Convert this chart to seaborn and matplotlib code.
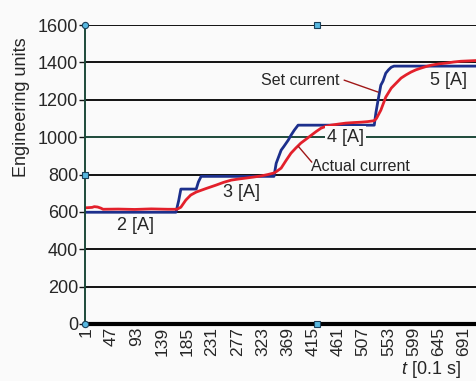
import numpy as np
import pandas as pd
import matplotlib
matplotlib.use("Agg")
import matplotlib.pyplot as plt
import seaborn as sns

# Sample index (0.1 s steps) and measured values, engineering units
set_t = [1, 165, 170, 174, 202, 206, 211, 344, 348, 357, 362, 370, 375, 381, 388,
         527, 530, 534, 539, 543, 548, 553, 558, 563, 760]
set_v = [598, 598, 660, 722, 722, 760, 790, 790, 860, 930, 950, 984, 1010, 1037, 1064,
         1064, 1130, 1198, 1278, 1300, 1342, 1360, 1374, 1380, 1380]

act_t = [1, 12, 16, 22, 28, 32, 60, 90, 120, 150, 167, 174, 183, 192, 202, 220, 238,
         252, 266, 280, 293, 306, 320, 333, 344, 348, 357, 366, 375, 384, 393, 403,
         412, 421, 430, 439, 448, 462, 475, 490, 503, 515, 527, 531, 539, 548, 558,
         567, 576, 585, 594, 603, 612, 622, 631, 645, 658, 672, 685, 700, 715, 760]
act_v = [622, 624, 628, 626, 620, 614, 615, 613, 616, 614, 614, 625, 663, 690, 706,
         725, 743, 758, 770, 776, 781, 786, 792, 800, 808, 815, 834, 875, 914, 942,
         968, 990, 1010, 1030, 1048, 1058, 1064, 1070, 1075, 1078, 1080, 1083, 1088,
         1100, 1144, 1214, 1262, 1289, 1316, 1333, 1348, 1360, 1369, 1378, 1385, 1392,
         1396, 1402, 1406, 1408, 1410, 1410]

y_ticks = [0, 200, 400, 600, 800, 1000, 1200, 1400, 1600]
x_ticks = list(range(1, 700, 46))

series_names = ["Set current", "Actual current"]
df = pd.concat([
    pd.DataFrame({"t": set_t, "value": set_v, "series": series_names[0]}),
    pd.DataFrame({"t": act_t, "value": act_v, "series": series_names[1]}),
], ignore_index=True)

sns.set_theme(style="white")
plt.rcParams["font.family"] = ["Liberation Sans", "DejaVu Sans"]
plt.rcParams["mathtext.fontset"] = "custom"
plt.rcParams["mathtext.it"] = "Liberation Sans:italic"
plt.rcParams["mathtext.rm"] = "Liberation Sans"

bg = "#fafafa"
fig = plt.figure(figsize=(4.76, 3.81), dpi=100, facecolor=bg)
ax = fig.add_axes([85 / 476, 1 - 324 / 381, 464 / 476, 299 / 381])
ax.set_facecolor(bg)

# horizontal grid
for yv in y_ticks[1:]:
    col = "#1d4a3a" if yv == 1000 else "#111111"
    ax.axhline(yv, color=col, lw=1.4, zorder=1)

sns.lineplot(data=df, x="t", y="value", hue="series", estimator=None, sort=False,
             palette={"Set current": "#1c2f8c", "Actual current": "#e3202b"},
             linewidth=2.0, legend=False, ax=ax, zorder=3)

ax.set_xlim(-1, 846)
ax.set_ylim(0, 1600)
ax.set_yticks(y_ticks)
ax.set_yticklabels([str(v) for v in y_ticks], fontsize=13)
ax.set_xticks(x_ticks)
ax.set_xticklabels([str(v) for v in x_ticks], rotation=90, fontsize=12.5)
ax.tick_params(axis="y", length=4, width=1, color="#111111", pad=1, left=True)
ax.tick_params(axis="x", length=0, pad=2)
ax.set_xlabel("")
ax.set_ylabel("")

for s in ["top", "right"]:
    ax.spines[s].set_visible(False)
ax.spines["left"].set_color("#1d4a3a")
ax.spines["left"].set_linewidth(1.4)
ax.spines["bottom"].set_color("#000000")
ax.spines["bottom"].set_linewidth(3.0)
ax.spines["left"].set_zorder(4)

# selection handles on the plot frame
for (hx, hy, mk) in [(0, 1, "o"), (0.5, 1, "s"), (0, 0.5, "s"), (0, 0, "o"), (0.5, 0, "s")]:
    ax.plot(hx, hy, marker=mk, ms=4.5, mfc="#58b8e0", mec="#1a3f5a", mew=0.8,
            transform=ax.transAxes, clip_on=False, zorder=6)

# step labels
ax.text(92, 529, "2 [A]", fontsize=13, ha="center", va="center", zorder=5)
ax.text(284, 706, "3 [A]", fontsize=13, ha="center", va="center", zorder=5)
ax.text(474, 1000, "4 [A]", fontsize=13, ha="center", va="center", zorder=5,
        bbox=dict(facecolor=bg, edgecolor="none", pad=1.5))
ax.text(662, 1305, "5 [A]", fontsize=13, ha="center", va="center", zorder=5)

# series callouts
ax.text(392, 1305, "Set current", fontsize=11.5, ha="center", va="center", zorder=5)
ax.plot([472, 534], [1305, 1241], color="#a01818", lw=1.0, zorder=5)
ax.text(501, 845, "Actual current", fontsize=11.5, ha="center", va="center", zorder=5)
ax.plot([413, 388], [866, 952], color="#a01818", lw=1.0, zorder=5)

fig.text(22 / 476, 1 - 107 / 381, "Engineering units", rotation=90, fontsize=13,
         ha="center", va="center")
fig.text(431 / 476, 1 - 369 / 381, r"$t$ [0.1 s]", fontsize=13, ha="center", va="center")

fig.savefig("out.png", dpi=100, facecolor=bg)
